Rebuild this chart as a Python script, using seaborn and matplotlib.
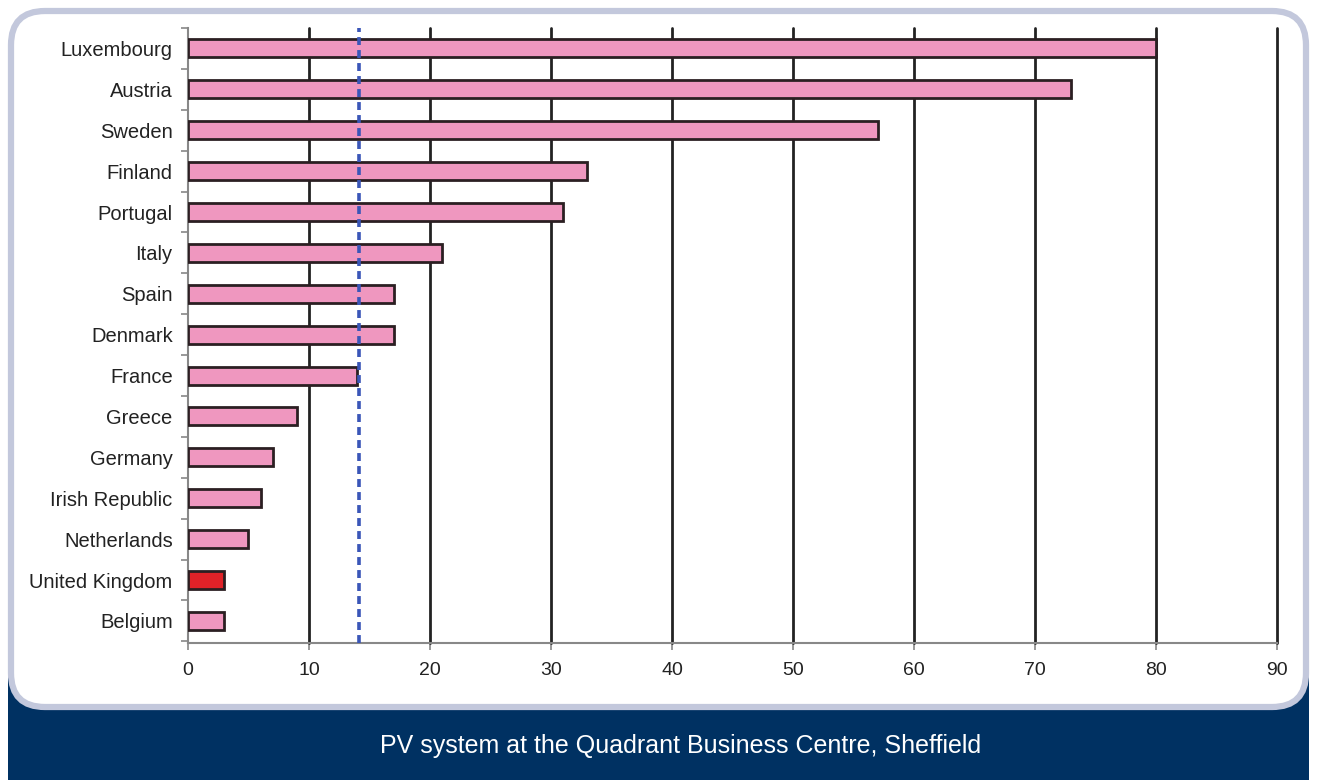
import matplotlib
matplotlib.use("Agg")
import matplotlib.pyplot as plt
import seaborn as sns
import pandas as pd
from matplotlib.patches import FancyBboxPatch

countries = ["Luxembourg", "Austria", "Sweden", "Finland", "Portugal", "Italy", "Spain",
             "Denmark", "France", "Greece", "Germany", "Irish Republic", "Netherlands",
             "United Kingdom", "Belgium"]
values = [80, 73, 57, 33, 31, 21, 17, 17, 14, 9, 7, 6, 5, 3, 3]
highlight = "United Kingdom"
average_value = 14.1
x_ticks = [0, 10, 20, 30, 40, 50, 60, 70, 80, 90]
caption = "PV system at the Quadrant Business Centre, Sheffield"

PINK = "#ef97bf"
RED = "#e02228"
EDGE = "#2b1f22"

sns.set_theme(style="white")
plt.rcParams["font.family"] = ["Liberation Sans", "DejaVu Sans"]

W, H = 1317, 780
fig = plt.figure(figsize=(W / 100, H / 100), dpi=100)
fig.patch.set_facecolor("white")

# background frame axes (pixel coordinates)
bg = fig.add_axes([0, 0, 1, 1], zorder=0)
bg.set_xlim(0, W)
bg.set_ylim(H, 0)
bg.axis("off")
bg.add_patch(FancyBboxPatch((8, 640), W - 16, 200, boxstyle="round,pad=0,rounding_size=28",
                            facecolor="#003162", edgecolor="none"))
bg.add_patch(FancyBboxPatch((11, 11), W - 22, 696, boxstyle="round,pad=0,rounding_size=34",
                            facecolor="white", edgecolor="#c3c8dc", linewidth=4.5))
bg.text(681, 746, caption, color="white", fontsize=18, ha="center", va="center")

df = pd.DataFrame({"country": countries, "value": values})
palette = {c: (RED if c == highlight else PINK) for c in countries}

ax = fig.add_axes([188 / W, 1 - 643 / H, (1277 - 188) / W, (643 - 28) / H], zorder=1)
ax.patch.set_alpha(0)
sns.barplot(data=df, y="country", x="value", hue="country", palette=palette, legend=False,
            orient="h", width=0.44, edgecolor=EDGE, linewidth=2, saturation=1, ax=ax, zorder=3)

ax.set_xlim(0, 90)
ax.set_ylim(len(countries) - 0.46, -0.49)
ax.set_xticks(x_ticks)
ax.set_xticklabels([str(t) for t in x_ticks])
for t in x_ticks[1:]:
    ax.axvline(t, color="#222222", linewidth=2, zorder=2, clip_on=False)
ax.axvline(average_value, color="#3a56b8", linewidth=2.6, linestyle=(0, (2.2, 1.4)), zorder=4)

ax.set_xlabel("")
ax.set_ylabel("")
for s in ["top", "right"]:
    ax.spines[s].set_visible(False)
for s in ["left", "bottom"]:
    ax.spines[s].set_color("#888888")
    ax.spines[s].set_linewidth(1.5)

ax.set_yticks(range(len(countries)))
ax.set_yticklabels(countries)
ax.set_yticks([i + 0.5 for i in range(-1, len(countries))], minor=True)
ax.tick_params(axis="y", which="major", length=0, pad=11, labelsize=14.5, colors="#222222")
ax.tick_params(axis="y", which="minor", length=5, width=1.2, color="#888888", direction="out", left=True)
ax.tick_params(axis="x", which="major", length=5, width=1.2, color="#888888", direction="out",
               bottom=True, pad=9, labelsize=14, labelcolor="#222222")

fig.savefig("out.png", dpi=100)
